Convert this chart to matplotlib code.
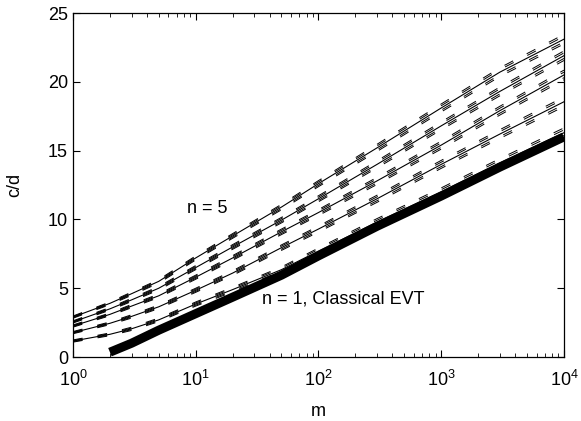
import numpy as np
import matplotlib
matplotlib.use("Agg")
import matplotlib.pyplot as plt

plt.rcParams['font.family'] = ['Liberation Sans', 'DejaVu Sans']
plt.rcParams['mathtext.fontset'] = 'custom'
plt.rcParams['mathtext.rm'] = 'Liberation Sans'
plt.rcParams['lines.scale_dashes'] = False

# sample points along m
m = [1, 2, 3, 5, 10, 20, 50, 100, 300, 1000, 3000, 10000]

# c/d for n = 1..5
cd_n1 = [1.16, 1.65, 2.05, 2.70, 3.85, 4.90, 6.35, 7.70, 9.80, 12.0, 14.1, 16.3]
cd_n2 = [1.77, 2.45, 2.95, 3.65, 4.85, 6.10, 7.95, 9.30, 11.5, 14.0, 16.2, 18.55]
cd_n3 = [2.25, 3.10, 3.70, 4.45, 5.80, 7.20, 9.10, 10.5, 12.8, 15.4, 17.9, 20.5]
cd_n4 = [2.55, 3.50, 4.15, 5.00, 6.50, 8.00, 9.95, 11.5, 14.0, 16.8, 19.3, 21.9]
cd_n5 = [2.90, 3.90, 4.60, 5.50, 7.20, 8.80, 10.9, 12.6, 15.2, 18.1, 20.7, 23.1]
curves = [cd_n1, cd_n2, cd_n3, cd_n4, cd_n5]

# spread of the dashed lines around each curve
band_inner = [0.04, 0.05, 0.06, 0.07, 0.08, 0.09, 0.11, 0.12, 0.14, 0.16, 0.18, 0.20]
band_outer = [0.08, 0.10, 0.12, 0.13, 0.15, 0.17, 0.20, 0.22, 0.26, 0.29, 0.32, 0.35]

# classical EVT (thick line)
m_evt = [2, 3, 5, 10, 20, 50, 100, 300, 1000, 3000, 10000]
cd_evt = [0.35, 1.0, 1.95, 3.15, 4.35, 5.95, 7.35, 9.5, 11.7, 13.8, 16.0]

fig = plt.figure(figsize=(5.81, 4.21), dpi=100)
ax = fig.add_axes([0.1256, 0.152, 0.845, 0.817])

ax.plot(m_evt, cd_evt, color='black', lw=6.5, solid_capstyle='butt')

for c in curves:
    c = np.array(c)
    ax.plot(m, c, color='black', lw=0.8)
    for b in (band_inner, band_outer):
        b = np.array(b)
        ax.plot(m, c + b, color='black', lw=0.7, dashes=(7, 11))
        ax.plot(m, c - b, color='black', lw=0.7, dashes=(7, 11))

ax.text(12.5, 10.8, 'n = 5', fontsize=13, ha='center', va='center')
ax.text(35, 4.25, 'n = 1, Classical EVT', fontsize=13, ha='left', va='center')

ax.set_xscale('log')
ax.set_xlim(1, 1e4)
ax.set_ylim(0, 25)
ax.set_yticks([0, 5, 10, 15, 20, 25])
ax.set_xlabel('m', fontsize=13, labelpad=10)
ax.set_ylabel('c/d', fontsize=13, labelpad=18)
ax.tick_params(which='both', direction='in', top=True, right=True, labelsize=13)
ax.tick_params(axis='x', which='major', pad=9)
ax.tick_params(which='major', length=5)
ax.tick_params(which='minor', length=3)
for s in ax.spines.values():
    s.set_linewidth(0.9)

plt.savefig("out.png", dpi=100)
